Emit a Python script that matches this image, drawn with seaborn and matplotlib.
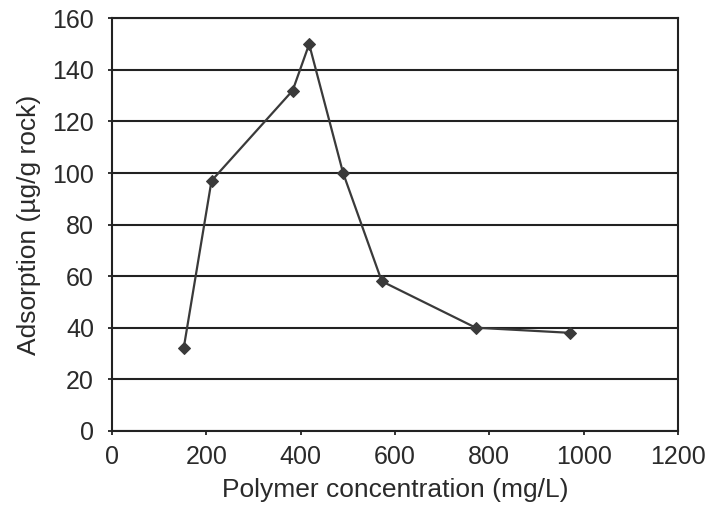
import matplotlib
matplotlib.use("Agg")
import matplotlib.pyplot as plt
import seaborn as sns
import pandas as pd

concentration = [152, 211, 383, 418, 490, 572, 771, 971]
adsorption = [32, 97, 132, 150, 100, 58, 40, 38]
x_ticks = [0, 200, 400, 600, 800, 1000, 1200]
y_ticks = [0, 20, 40, 60, 80, 100, 120, 140, 160]

df = pd.DataFrame({"conc": concentration, "ads": adsorption})

sns.set_theme(style="white")
plt.rcParams['font.family'] = ['Liberation Sans', 'DejaVu Sans']

fig = plt.figure(figsize=(7.11, 5.11), dpi=100)
ax = fig.add_axes([0.1575, 0.157, 0.7961, 0.807])

sns.lineplot(data=df, x="conc", y="ads", ax=ax, color="#3a3a3a", linewidth=1.6,
             marker="D", markersize=6.5, markeredgecolor="#3a3a3a", sort=False, zorder=3)

ax.set_xlim(0, 1200)
ax.set_ylim(0, 160)
ax.set_xticks(x_ticks)
ax.set_yticks(y_ticks)
ax.yaxis.grid(True, color="#222222", linewidth=1.5)
ax.xaxis.grid(False)
for s in ax.spines.values():
    s.set_color("#222222")
    s.set_linewidth(1.5)
ax.tick_params(axis="both", which="both", direction="out", length=3, width=1.3,
               color="#222222", labelsize=18, labelcolor="#2a2a2a", left=True, bottom=True)
ax.tick_params(axis="y", pad=10)
ax.tick_params(axis="x", pad=7)
ax.set_xlabel("Polymer concentration (mg/L)", fontsize=19, color="#2a2a2a", labelpad=7)
ax.set_ylabel("Adsorption (µg/g rock)", fontsize=19, color="#2a2a2a", labelpad=8)

fig.savefig("out.png", dpi=100)
